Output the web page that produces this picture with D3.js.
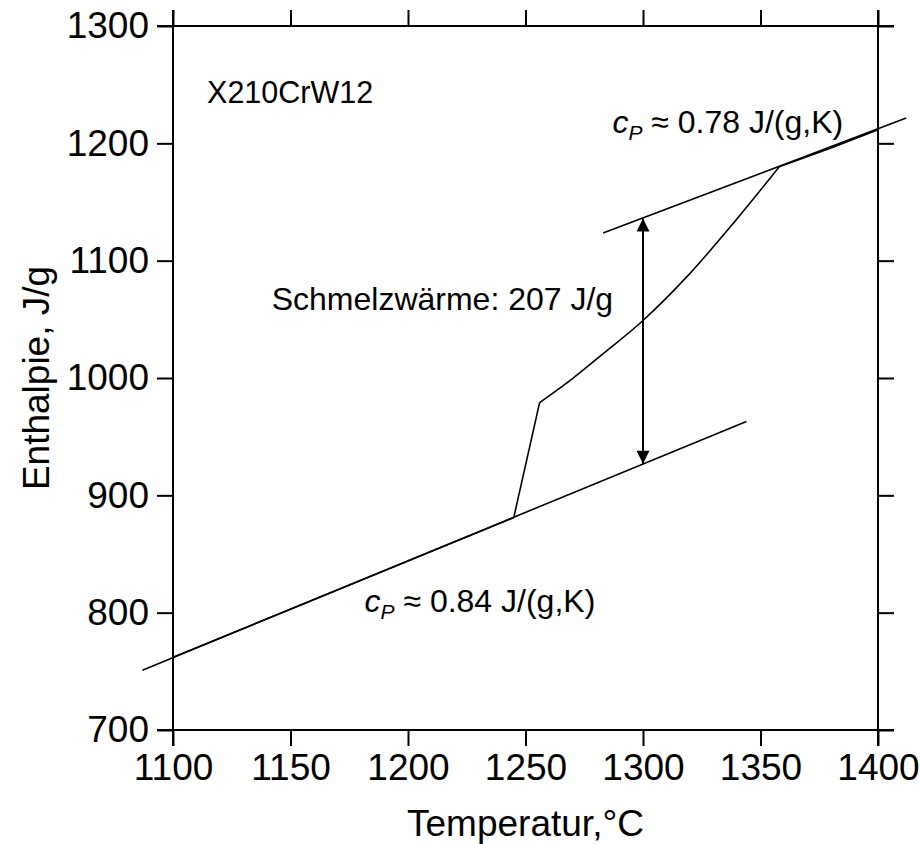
<!DOCTYPE html>
<html>
<head>
<meta charset="utf-8">
<script src="https://cdn.jsdelivr.net/npm/d3@7"></script>
<style>
  body { margin: 0; background: #fff; }
  svg { font-family: "Liberation Sans", Arial, sans-serif; }
  .frame { stroke: #000; stroke-width: 2; }
  .tick line { stroke: #000; stroke-width: 2; }
  .data { fill: none; stroke: #000; stroke-width: 1.6; }
</style>
</head>
<body>
<svg width="920" height="844"></svg>
<script>
// axis ticks
var xTicks = [1100, 1150, 1200, 1250, 1300, 1350, 1400];
var yTicks = [700, 800, 900, 1000, 1100, 1200, 1300];

// measured enthalpy curve (Temperatur, Enthalpie)
var measT = [1100, 1150, 1200, 1245, 1256, 1270, 1282, 1300, 1319, 1338.5, 1358, 1380, 1400];
var measH = [762, 803, 844, 881, 979, 999.5, 1019, 1049, 1087, 1132, 1180, 1196, 1211.5];

// tangent lines
var solidT = [1087, 1344];
var solidH = [751, 963];
var liquidT = [1283, 1412];
var liquidH = [1123.5, 1221.5];

// arrow for heat of fusion
var arrowT = 1300;
var arrowH = [927, 1136];

var margin = { top: 26, right: 42, bottom: 114, left: 173 };
var width = 920 - margin.left - margin.right;
var height = 844 - margin.top - margin.bottom;

var svg = d3.select("svg");
var g = svg.append("g").attr("transform", "translate(" + margin.left + "," + margin.top + ")");

var x = d3.scaleLinear().domain([1100, 1400]).range([0, width]);
var y = d3.scaleLinear().domain([700, 1300]).range([height, 0]);

var ext = 16;

// axes
g.append("g").attr("transform", "translate(0," + height + ")")
	.call(d3.axisBottom(x).tickValues(xTicks).tickSize(ext).tickPadding(8).tickFormat(d3.format("d")));
g.append("g")
	.call(d3.axisTop(x).tickValues(xTicks).tickSize(ext).tickFormat(""));
g.append("g")
	.call(d3.axisLeft(y).tickValues(yTicks).tickSize(ext).tickPadding(8).tickFormat(d3.format("d")));
g.append("g").attr("transform", "translate(" + width + ",0)")
	.call(d3.axisRight(y).tickValues(yTicks).tickSize(ext).tickFormat(""));

g.selectAll(".domain").remove();
g.selectAll(".tick text").attr("font-size", 37).attr("font-family", "Liberation Sans, Arial, sans-serif").attr("fill", "#000");

// frame lines running past the corners
var frame = [
	[-ext, 0, width + ext, 0],
	[-ext, height, width + ext, height],
	[0, -ext, 0, height + ext],
	[width, -ext, width, height + ext]
];
g.selectAll(".frame")
	.data(frame)
	.enter()
	.append("line")
	.attr("class", "frame")
	.attr("x1", function (d) { return d[0]; })
	.attr("y1", function (d) { return d[1]; })
	.attr("x2", function (d) { return d[2]; })
	.attr("y2", function (d) { return d[3]; });

var line = d3.line()
	.x(function (d) { return x(d[0]); })
	.y(function (d) { return y(d[1]); });
var smooth = d3.line()
	.curve(d3.curveMonotoneX)
	.x(function (d) { return x(d[0]); })
	.y(function (d) { return y(d[1]); });

var meas = measT.map(function (t, i) { return [t, measH[i]]; });
// straight parts and the kink, then the smooth melting part
g.append("path").attr("class", "data").attr("d", line(meas.slice(0, 5)));
g.append("path").attr("class", "data").attr("d", smooth(meas.slice(4, 11)));
g.append("path").attr("class", "data").attr("d", line(meas.slice(10)));

g.append("path").attr("class", "data")
	.attr("d", line(solidT.map(function (t, i) { return [t, solidH[i]]; })));
g.append("path").attr("class", "data")
	.attr("d", line(liquidT.map(function (t, i) { return [t, liquidH[i]]; })));

// arrow heads
var defs = svg.append("defs");
defs.append("marker")
	.attr("id", "head")
	.attr("viewBox", "0 0 10 10")
	.attr("refX", 10).attr("refY", 5)
	.attr("markerWidth", 18).attr("markerHeight", 13)
	.attr("markerUnits", "userSpaceOnUse")
	.attr("orient", "auto-start-reverse")
	.append("path").attr("d", "M0,0 L10,5 L0,10 Z").attr("fill", "#000");

g.append("line")
	.attr("x1", x(arrowT)).attr("x2", x(arrowT))
	.attr("y1", y(arrowH[0])).attr("y2", y(arrowH[1]))
	.attr("stroke", "#000").attr("stroke-width", 2)
	.attr("marker-start", "url(#head)")
	.attr("marker-end", "url(#head)");

// annotations
g.append("text").attr("x", x(1114.5)).attr("y", y(1234)).attr("font-size", 30.5).text("X210CrW12");
g.append("text").attr("x", x(1142)).attr("y", y(1058)).attr("font-size", 32).text("Schmelzwärme: 207 J/g");

function cpLabel(tx, hy, val) {
	var t = g.append("text").attr("x", x(tx)).attr("y", y(hy)).attr("font-size", 32);
	t.append("tspan").attr("font-style", "italic").text("c");
	t.append("tspan").attr("font-style", "italic").attr("font-size", 21).attr("dy", 7).text("P");
	t.append("tspan").attr("dy", -7).text(" ≈ " + val + " J/(g,K)");
}
cpLabel(1287, 1209, "0.78");
cpLabel(1181.5, 800.5, "0.84");

// axis titles
svg.append("text")
	.attr("x", margin.left + width / 2).attr("y", 836)
	.attr("text-anchor", "middle").attr("font-size", 37)
	.text("Temperatur,°C");
svg.append("text")
	.attr("transform", "translate(49," + (margin.top + height / 2) + ") rotate(-90)")
	.attr("text-anchor", "middle").attr("font-size", 37)
	.text("Enthalpie, J/g");
</script>
</body>
</html>
